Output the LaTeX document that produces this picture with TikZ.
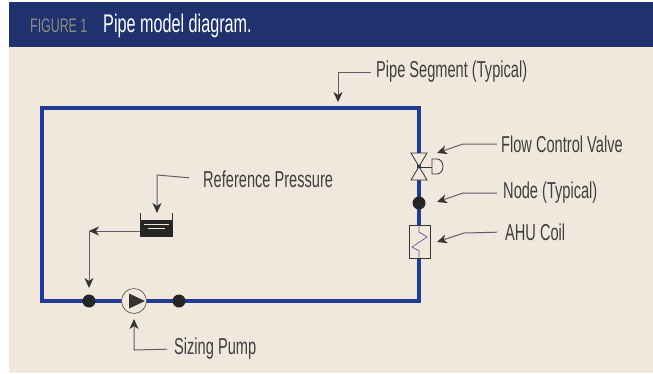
\documentclass[tikz,border=0pt]{standalone}
\usepackage{fontspec}
\setmainfont[FakeStretch=0.635]{Liberation Sans}
\usetikzlibrary{arrows.meta,positioning}
\definecolor{panelcream}{RGB}{240,232,220}
\definecolor{bannerblue}{RGB}{31,50,110}
\definecolor{pipeblue}{RGB}{32,58,150}
\definecolor{leadergray}{RGB}{95,95,100}
\definecolor{textgray}{RGB}{62,62,64}
\definecolor{figgray}{RGB}{140,140,130}
\definecolor{coilpurple}{RGB}{110,80,160}
\tikzset{
	pipe/.style={draw=pipeblue, line width=3.4pt, line join=miter},
	leader/.style={draw=leadergray, line width=1pt, -{Stealth[length=10pt,width=9pt,inset=3pt,color=black!80]}},
	calllabel/.style={text=textgray, font=\fontsize{23}{23}\selectfont, inner sep=0pt, anchor=west},
	pipenode/.style={circle, fill=black!85, minimum size=13pt, inner sep=0pt},
	symbolline/.style={draw=black!80, line width=0.8pt}
}
\begin{document}
\begin{tikzpicture}[x=1pt,y=-1pt]
	\useasboundingbox (0,0) rectangle (653,373);
	\fill[white] (0,0) rectangle (653,373);
	\fill[panelcream] (9,2) rectangle (653,373);
	\fill[bannerblue] (9,2) rectangle (653,47);
	\node[anchor=west, inner sep=0pt, text=figgray, font=\fontsize{19.5}{20}\selectfont] (figlabel) at (30,26) {FIGURE 1};
	\node[anchor=west, inner sep=0pt, text=white, font=\fontsize{25.5}{26}\selectfont] (figtitle) at (103,26) {Pipe model diagram.};
	% pipe loop
	\coordinate (cornerTL) at (42,108);
	\coordinate (cornerTR) at (419,108);
	\coordinate (cornerBR) at (419,301);
	\coordinate (cornerBL) at (42,301);
	\draw[pipe] (cornerTL) -- (cornerTR) -- (cornerBR) -- (cornerBL) -- cycle;
	% nodes on the pipe
	\node[pipenode] (nodeA) at (89,301) {};
	\node[pipenode] (nodeB) at (179,301) {};
	\node[pipenode] (nodeC) at (419,203) {};
	% pump
	\node[circle, draw=black!70, fill=panelcream, line width=0.6pt, minimum size=25pt, inner sep=0pt] (pump) at (134,301) {};
	\fill[black!80] (129,293.5) -- (145,301) -- (129,308.5) -- cycle;
	% valve
	\coordinate (valve) at (419,167);
	\draw[symbolline, fill=panelcream] (411,153) -- (427,153) -- (411,180) -- (427,180) -- cycle;
	\draw[symbolline] (valve) -- (432,167);
	\draw[symbolline] (432,159) -- (437,159) arc (-90:90:6 and 7.5) -- (432,174) -- cycle;
	% coil
	\node[draw=black!80, fill=panelcream, line width=0.8pt, minimum width=21pt, minimum height=33pt, inner sep=0pt] (coil) at (419.5,241.5) {};
	\draw[draw=coilpurple, line width=0.7pt] (419,225) -- (419,232) -- (427,237) -- (412,247) -- (419,251) -- (419,258);
	% reference tank
	\node[fill=black!85, minimum width=33pt, minimum height=17pt, inner sep=0pt] (tank) at (156.5,228.5) {};
	\draw[symbolline] (140.5,213) -- (140.5,225) (172.5,213) -- (172.5,225);
	\draw[panelcream, line width=1pt] (144,224.5) -- (169,224.5);
	\draw[panelcream, line width=1pt] (148,228.5) -- (165,228.5);
	% labels
	\node[calllabel] (lblsegment) at (376,72) {Pipe Segment (Typical)};
	\node[calllabel] (lblvalve) at (501,144) {Flow Control Valve};
	\node[calllabel] (lblnode) at (503,193) {Node (Typical)};
	\node[calllabel] (lblcoil) at (505,232) {AHU Coil};
	\node[calllabel] (lblpressure) at (203,179) {Reference Pressure};
	\node[calllabel] (lblpump) at (174,349) {Sizing Pump};
	% leaders
	\coordinate (tipsegment) at (338,102);
	\coordinate (tipvalve) at (437,153);
	\coordinate (tipnode) at (437,202);
	\coordinate (tipcoil) at (437,242);
	\coordinate (tiptank) at (157,213);
	\coordinate (tippump) at (134,319);
	\coordinate (tipA) at (89,288);
	\coordinate (elbowtank) at (89,231);
	\draw[leader, shorten <=5pt] (lblsegment.west) -- (338,72) -- (tipsegment);
	\draw[leader, shorten <=4pt] (lblvalve.west) -- (463,144) -- (tipvalve);
	\draw[leader, shorten <=6pt] (lblnode.west) -- (463,193) -- (tipnode);
	\draw[leader, shorten <=8pt] (lblcoil.west) -- (464,233) -- (tipcoil);
	\draw[leader, shorten <=14pt] (lblpressure.west) -- (157,175) -- (tiptank);
	\draw[leader, shorten <=7pt] (lblpump.west) -- (134,350) -- (tippump);
	\draw[leader] (tank.west |- elbowtank) -- (elbowtank);
	\draw[leader] (elbowtank) -- (tipA);
\end{tikzpicture}
\end{document}
